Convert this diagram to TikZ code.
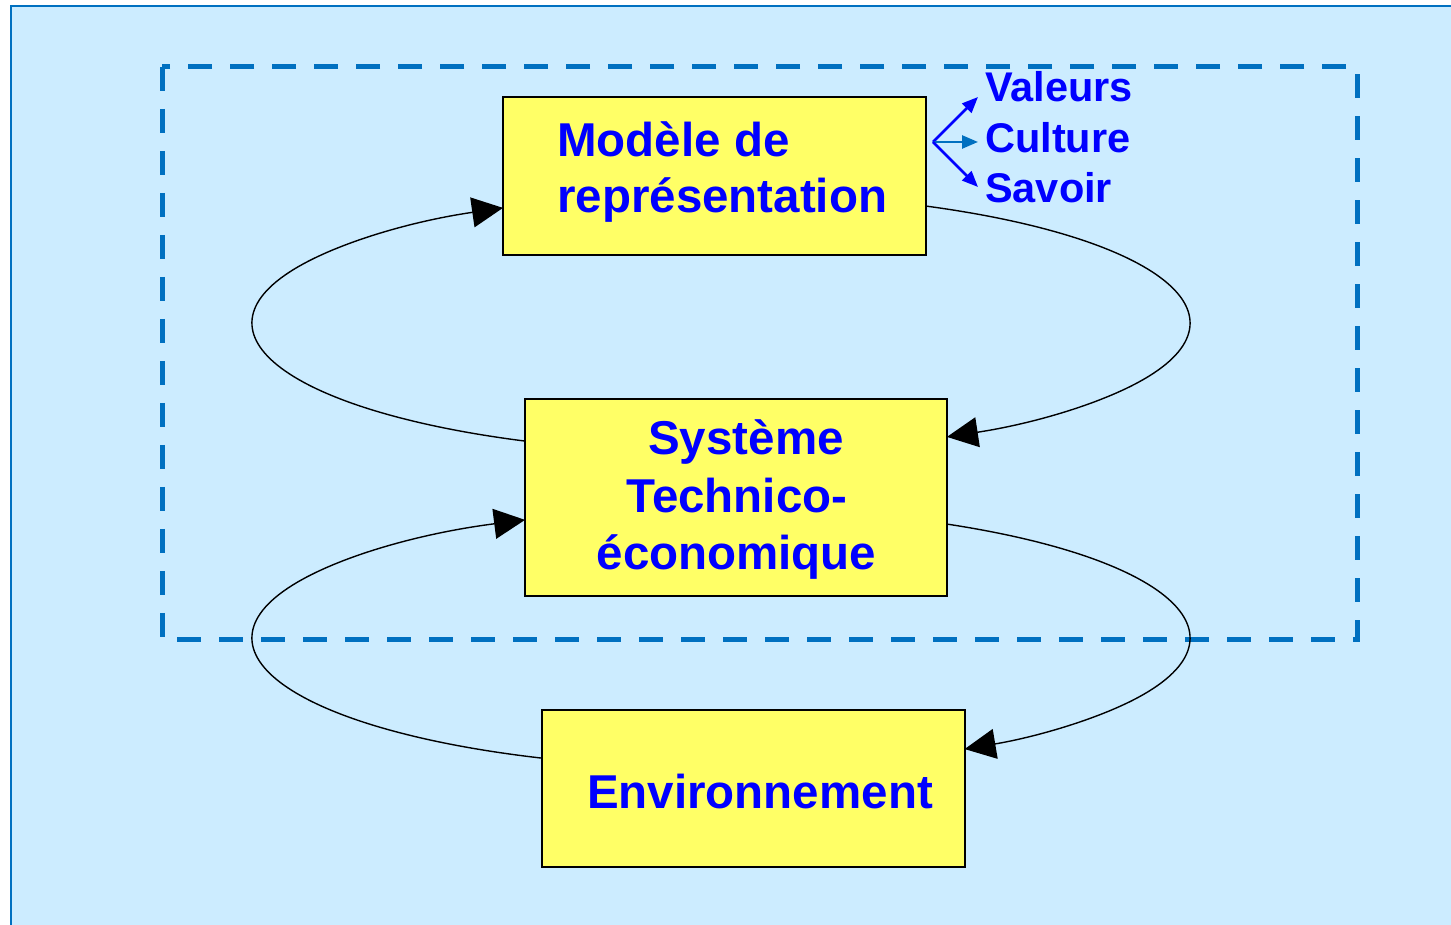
\documentclass[tikz,border=0pt]{standalone}
\usepackage{fontspec}
\setmainfont{Liberation Sans}
\usetikzlibrary{arrows.meta}
\definecolor{bgblue}{HTML}{CCECFF}
\definecolor{frameblue}{HTML}{0070C0}
\definecolor{boxyellow}{HTML}{FFFF66}
\definecolor{txtblue}{HTML}{0000FF}
\tikzset{
  box/.style={draw=black, line width=1.6pt, fill=boxyellow, inner sep=0pt},
  bigtxt/.style={inner sep=0pt, text=txtblue, font=\fontsize{47.5}{57}\selectfont\bfseries},
  smalltxt/.style={inner sep=0pt, text=txtblue, anchor=base west, font=\fontsize{41.5}{50}\selectfont\bfseries},
  conn/.style={draw=black, line width=1.4pt, -{Triangle[length=31pt,width=30pt]}},
  fan/.style={line width=2.6pt, -{Triangle[length=16pt,width=13pt]}},
}
\begin{document}
\begin{tikzpicture}[x=1pt,y=1pt]
\useasboundingbox (0,0) rectangle (1451,925);
\begin{scope}
\clip (0,0) rectangle (1451,925);
\fill[white] (0,0) rectangle (1451,925);
\draw[fill=bgblue, draw=frameblue, line width=2.5pt] (11,919) rectangle (1470,-20);
\end{scope}
% dashed frame
\draw[frameblue, line width=5pt, dash pattern=on 24pt off 18pt] (162,858) rectangle (1357,285);
% boxes
\node[box, minimum width=423pt, minimum height=158pt] (m) at (714.5,749) {};
\node[box, minimum width=422pt, minimum height=197pt] (s) at (736,427.5) {};
\node[box, minimum width=423pt, minimum height=157pt] (e) at (753.5,136.5) {};
% texts
\node[bigtxt, anchor=base west] (m1) at (557,768) {Modèle de};
\node[bigtxt, anchor=base west] (m2) at (557,712) {représentation};
\node[bigtxt, anchor=base] (s1) at (746,470) {Système};
\node[bigtxt, anchor=base] (s2) at (737,412) {Technico-};
\node[bigtxt, anchor=base] (s3) at (736.5,355) {économique};
\node[bigtxt, anchor=base] (e1) at (760,116) {Environnement};
% side labels
\node[smalltxt] (v) at (985,823) {Valeurs};
\node[smalltxt] (c) at (985,772) {Culture};
\node[smalltxt] (sv) at (985,722) {Savoir};
\coordinate (o) at (933,783);
\draw[fan, txtblue] (o) -- (978,828);
\draw[fan, frameblue] (o) -- (978,783);
\draw[fan, txtblue] (o) -- (978,738);
% loops
\draw[conn] ([shift={(245.3:469 and 130)}]721,602) arc[start angle=245.3, end angle=117.7, x radius=469, y radius=130];
\draw[conn] ([shift={(64.1:469 and 130)}]721,602) arc[start angle=64.1, end angle=-61.2, x radius=469, y radius=130];
\draw[conn] ([shift={(247.5:469 and 130)}]721,287) arc[start angle=247.5, end angle=114.7, x radius=469, y radius=130];
\draw[conn] ([shift={(61.2:469 and 130)}]721,287) arc[start angle=61.2, end angle=-58.7, x radius=469, y radius=130];
\end{tikzpicture}
\end{document}
